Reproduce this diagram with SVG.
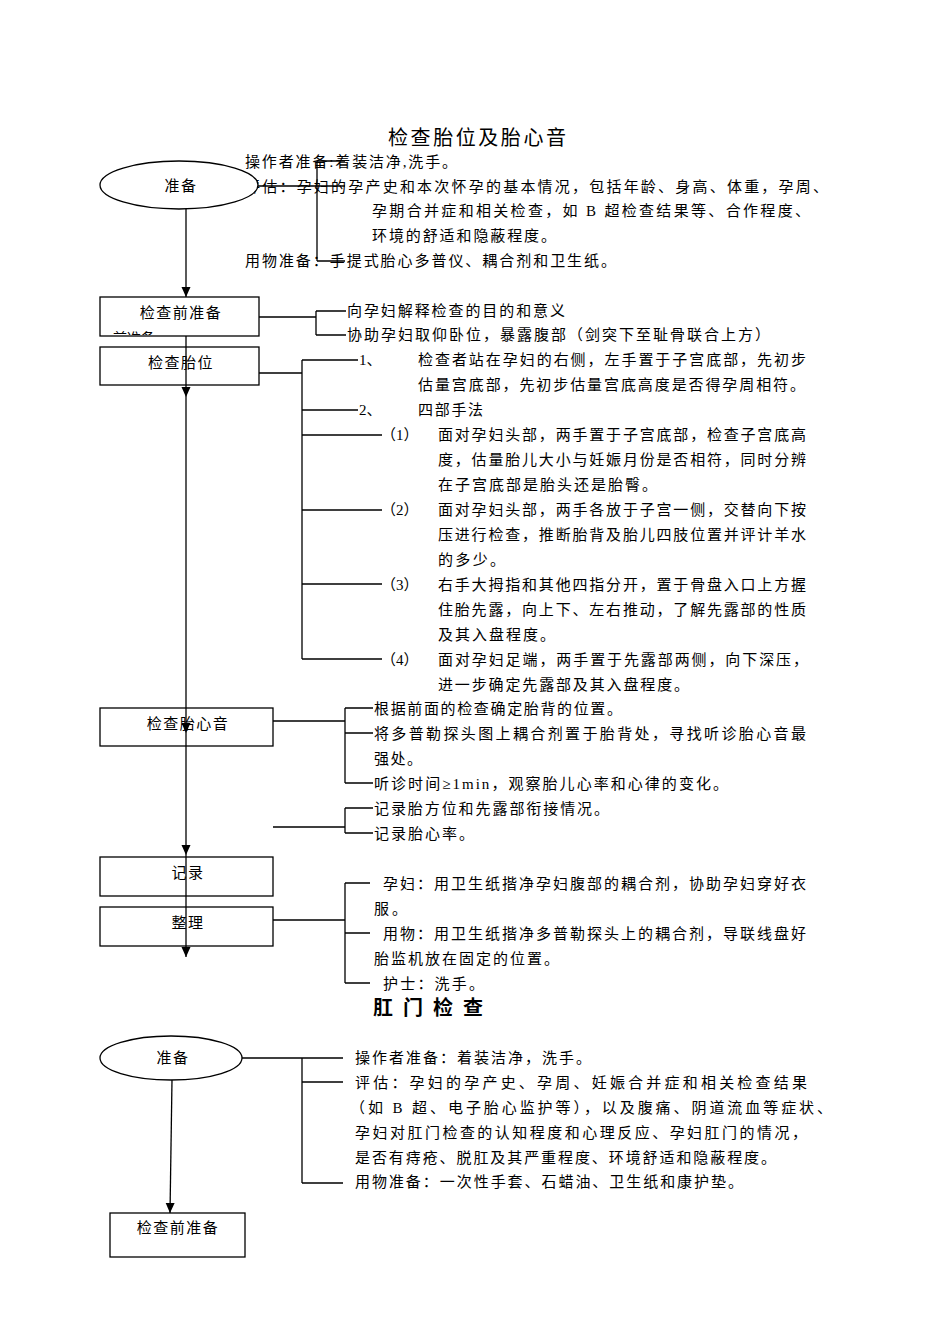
<svg xmlns="http://www.w3.org/2000/svg" width="950" height="1344" viewBox="0 0 950 1344">
<style>
text{font-family:"Liberation Serif","Noto Sans CJK SC",serif;font-size:15px;fill:#000;}
.t{letter-spacing:1.7px;}
.c{text-anchor:middle;letter-spacing:1.5px;}
.h{font-size:20px;}
.b{font-weight:bold;}
.box{fill:none;stroke:#000;stroke-width:1.3;}
.boxw{fill:#fff;stroke:#000;stroke-width:1.3;}
.ln{fill:none;stroke:#000;stroke-width:1.3;}
</style>
<defs>
<marker id="ah" markerUnits="userSpaceOnUse" markerWidth="10" markerHeight="10" refX="10" refY="5" orient="auto">
<path d="M0,0.5 L10,5 L0,9.5 z" fill="#000"/>
</marker>
<clipPath id="clipPrep"><rect x="100" y="297" width="159" height="38"/></clipPath>
</defs>
<rect width="950" height="1344" fill="#fff"/>

<text class="h" x="388" y="145" textLength="178" lengthAdjust="spacing">检查胎位及胎心音</text>

<g id="prep-texts">
<text x="245" y="167" textLength="212" lengthAdjust="spacing">操作者准备:着装洁净,洗手。</text>
<text x="245" y="192" textLength="583" lengthAdjust="spacing">评估：孕妇的孕产史和本次怀孕的基本情况，包括年龄、身高、体重，孕周、</text>
<text x="372" y="216" textLength="438" lengthAdjust="spacing">孕期合并症和相关检查，如 B 超检查结果等、合作程度、</text>
<text x="372" y="241" textLength="184" lengthAdjust="spacing">环境的舒适和隐蔽程度。</text>
<text x="245" y="266" textLength="371" lengthAdjust="spacing">用物准备：手提式胎心多普仪、耦合剂和卫生纸。</text>
</g>

<g id="node-prep">
<ellipse cx="179" cy="185" rx="79" ry="24" fill="#fff" stroke="#000" stroke-width="1.3"/>
<text class="c" x="181" y="191">准备</text>
</g>

<g id="node-precheck">
<rect class="boxw" x="100" y="297" width="159" height="39"/>
<text class="c" x="181" y="318">检查前准备</text>
<text x="113" y="343" font-size="14" clip-path="url(#clipPrep)" style="font-size:14px">前准备</text>
</g>
<g id="precheck-texts">
<text x="347" y="316" textLength="218" lengthAdjust="spacing">向孕妇解释检查的目的和意义</text>
<text x="347" y="340" textLength="423" lengthAdjust="spacing">协助孕妇取仰卧位，暴露腹部（剑突下至耻骨联合上方）</text>
</g>

<g id="node-position">
<rect class="box" x="100" y="347" width="159" height="38"/>
<text class="c" x="181" y="368">检查胎位</text>
</g>
<g id="position-texts">
<text x="359" y="365">1、</text>
<text x="418" y="365" textLength="388" lengthAdjust="spacing">检查者站在孕妇的右侧，左手置于子宫底部，先初步</text>
<text x="418" y="390" textLength="387" lengthAdjust="spacing">估量宫底部，先初步估量宫底高度是否得孕周相符。</text>
<text x="359" y="415">2、</text>
<text class="t" x="418" y="415">四部手法</text>
<text x="381" y="440">（1）</text>
<text x="438" y="440" textLength="368" lengthAdjust="spacing">面对孕妇头部，两手置于子宫底部，检查子宫底高</text>
<text x="438" y="465" textLength="368" lengthAdjust="spacing">度，估量胎儿大小与妊娠月份是否相符，同时分辨</text>
<text x="438" y="490" textLength="219" lengthAdjust="spacing">在子宫底部是胎头还是胎臀。</text>
<text x="381" y="515">（2）</text>
<text x="438" y="515" textLength="368" lengthAdjust="spacing">面对孕妇头部，两手各放于子宫一侧，交替向下按</text>
<text x="438" y="540" textLength="368" lengthAdjust="spacing">压进行检查，推断胎背及胎儿四肢位置并评计羊水</text>
<text x="438" y="565" textLength="67" lengthAdjust="spacing">的多少。</text>
<text x="381" y="590">（3）</text>
<text x="438" y="590" textLength="368" lengthAdjust="spacing">右手大拇指和其他四指分开，置于骨盘入口上方握</text>
<text x="438" y="615" textLength="368" lengthAdjust="spacing">住胎先露，向上下、左右推动，了解先露部的性质</text>
<text x="438" y="640" textLength="117" lengthAdjust="spacing">及其入盘程度。</text>
<text x="381" y="665">（4）</text>
<text x="438" y="665" textLength="370" lengthAdjust="spacing">面对孕妇足端，两手置于先露部两侧，向下深压，</text>
<text x="438" y="690" textLength="251" lengthAdjust="spacing">进一步确定先露部及其入盘程度。</text>
</g>

<g id="node-fhr">
<rect class="box" x="100" y="708" width="173" height="38"/>
<text class="c" x="188" y="729">检查胎心音</text>
</g>
<g id="fhr-texts">
<text x="374" y="714" textLength="248" lengthAdjust="spacing">根据前面的检查确定胎背的位置。</text>
<text x="374" y="739" textLength="432" lengthAdjust="spacing">将多普勒探头图上耦合剂置于胎背处，寻找听诊胎心音最</text>
<text x="374" y="764" textLength="48" lengthAdjust="spacing">强处。</text>
<text x="374" y="789" textLength="354" lengthAdjust="spacing">听诊时间≥1min，观察胎儿心率和心律的变化。</text>
<text x="374" y="814" textLength="235" lengthAdjust="spacing">记录胎方位和先露部衔接情况。</text>
<text x="374" y="839" textLength="100" lengthAdjust="spacing">记录胎心率。</text>
</g>

<g id="node-record">
<rect class="box" x="100" y="857" width="173" height="39"/>
<text class="c" x="188" y="878">记录</text>
</g>

<g id="node-tidy">
<rect class="box" x="100" y="907" width="173" height="39"/>
<text class="c" x="188" y="928">整理</text>
</g>
<g id="tidy-texts">
<text x="383" y="889" textLength="423" lengthAdjust="spacing">孕妇：用卫生纸揩净孕妇腹部的耦合剂，协助孕妇穿好衣</text>
<text x="374" y="914" textLength="33" lengthAdjust="spacing">服。</text>
<text x="383" y="939" textLength="423" lengthAdjust="spacing">用物：用卫生纸揩净多普勒探头上的耦合剂，导联线盘好</text>
<text x="374" y="964" textLength="185" lengthAdjust="spacing">胎监机放在固定的位置。</text>
<text x="383" y="989" textLength="101" lengthAdjust="spacing">护士：洗手。</text>
</g>

<text class="h b" x="373" y="1015" textLength="110" lengthAdjust="spacing">肛门检查</text>

<g id="node-prep2">
<ellipse cx="171" cy="1058" rx="71" ry="22" fill="#fff" stroke="#000" stroke-width="1.3"/>
<text class="c" x="173" y="1063">准备</text>
</g>
<g id="prep2-texts">
<text x="355" y="1063" textLength="236" lengthAdjust="spacing">操作者准备：着装洁净，洗手。</text>
<text x="355" y="1088" textLength="452" lengthAdjust="spacing">评估：孕妇的孕产史、孕周、妊娠合并症和相关检查结果</text>
<text x="350" y="1113" textLength="482" lengthAdjust="spacing">（如 B 超、电子胎心监护等），以及腹痛、阴道流血等症状、</text>
<text x="355" y="1138" textLength="452" lengthAdjust="spacing">孕妇对肛门检查的认知程度和心理反应、孕妇肛门的情况，</text>
<text x="355" y="1163" textLength="421" lengthAdjust="spacing">是否有痔疮、脱肛及其严重程度、环境舒适和隐蔽程度。</text>
<text x="355" y="1187" textLength="388" lengthAdjust="spacing">用物准备：一次性手套、石蜡油、卫生纸和康护垫。</text>
</g>

<g id="node-precheck2">
<rect class="box" x="110" y="1213" width="135" height="44"/>
<text class="c" x="178" y="1233">检查前准备</text>
</g>

<g id="connectors">
<!-- top prep bracket -->
<path class="ln" d="M258,186 H345 M317,161 V261 M317,161 H345 M317,261 H345"/>
<!-- main flow -->
<path class="ln" d="M186,209 V297" marker-end="url(#ah)"/>
<path class="ln" d="M186,336 V397" marker-end="url(#ah)"/>
<path class="ln" d="M186,397 V733" marker-end="url(#ah)"/>
<path class="ln" d="M186,733 V855" marker-end="url(#ah)"/>
<path class="ln" d="M186,855 V957" marker-end="url(#ah)"/>
<!-- precheck bracket -->
<path class="ln" d="M259,317 H316 M316,311 V335 M316,311 H346 M316,335 H346"/>
<!-- position bracket -->
<path class="ln" d="M259,373 H302 M302,360 V659 M302,360 H358 M302,410 H358 M302,435 H382 M302,510 H382 M302,584 H382 M302,659 H382"/>
<!-- fhr bracket -->
<path class="ln" d="M273,721 H345 M345,708 V783 M345,708 H373 M345,733 H373 M345,783 H373"/>
<!-- record bracket -->
<path class="ln" d="M273,827 H345 M345,808 V833 M345,808 H373 M345,833 H373"/>
<!-- tidy bracket -->
<path class="ln" d="M273,920 H345 M345,883 V983 M345,883 H370 M345,933 H370 M345,983 H370"/>
<!-- bottom prep bracket -->
<path class="ln" d="M242,1058 H343 M302,1058 V1183 M302,1082 H343 M302,1183 H343"/>
<path class="ln" d="M172,1080 L170,1213" marker-end="url(#ah)"/>
</g>
</svg>
